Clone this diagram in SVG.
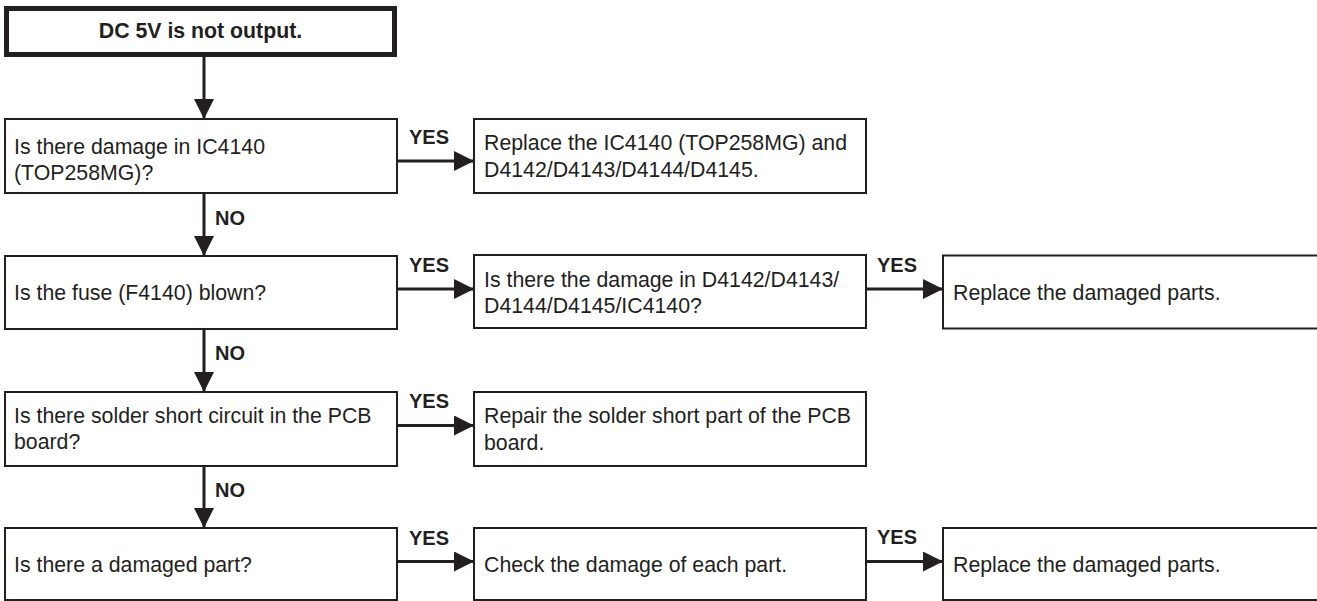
<svg xmlns="http://www.w3.org/2000/svg" width="1317" height="601" viewBox="0 0 1317 601">
<style>
.box{fill:#fff;stroke:#231f20;stroke-width:2}
.title{fill:#fff;stroke:#231f20;stroke-width:5}
.t{font-family:"Liberation Sans",Arial,sans-serif;font-size:21.3px;fill:#231f20}
.tb{font-family:"Liberation Sans",Arial,sans-serif;font-size:21.3px;font-weight:bold;fill:#231f20}
.lbl{font-family:"Liberation Sans",Arial,sans-serif;font-size:20px;font-weight:bold;fill:#231f20}
.c{stroke:#231f20;stroke-width:3;fill:none;marker-end:url(#ah)}
</style>
<defs>
<marker id="ah" markerUnits="userSpaceOnUse" markerWidth="20" markerHeight="20" refX="20" refY="10" orient="auto">
<path d="M0,0 L20,10 L0,20 z" fill="#231f20"/>
</marker>
</defs>
<rect width="1317" height="601" fill="#fff"/>
<g id="connectors">
<line class="c" x1="204" y1="57" x2="204" y2="119"/>
<line class="c" x1="204" y1="193" x2="204" y2="256"/>
<line class="c" x1="204" y1="329" x2="204" y2="392"/>
<line class="c" x1="204" y1="466" x2="204" y2="528"/>
<line class="c" x1="397" y1="161" x2="474" y2="161"/>
<line class="c" x1="397" y1="289" x2="474" y2="289"/>
<line class="c" x1="866" y1="289" x2="943" y2="289"/>
<line class="c" x1="397" y1="425.5" x2="474" y2="425.5"/>
<line class="c" x1="397" y1="561.5" x2="474" y2="561.5"/>
<line class="c" x1="866" y1="561.5" x2="943" y2="561.5"/>
<text class="lbl" x="215" y="225">NO</text>
<text class="lbl" x="215" y="360">NO</text>
<text class="lbl" x="215" y="497">NO</text>
<text class="lbl" x="409" y="144">YES</text>
<text class="lbl" x="409" y="272">YES</text>
<text class="lbl" x="877" y="272">YES</text>
<text class="lbl" x="409" y="408">YES</text>
<text class="lbl" x="409" y="545">YES</text>
<text class="lbl" x="877" y="544">YES</text>
</g>
<g id="start">
<rect class="title" x="6.5" y="8.5" width="388" height="46"/>
<text class="tb" x="200.5" y="38" text-anchor="middle">DC 5V is not output.</text>
</g>
<g id="q1">
<rect class="box" x="5" y="119" width="392" height="74"/>
<text class="t" x="14" y="154">Is there damage in IC4140</text>
<text class="t" x="14" y="180">(TOP258MG)?</text>
</g>
<g id="a1">
<rect class="box" x="474" y="119" width="392" height="74"/>
<text class="t" x="484" y="150">Replace the IC4140 (TOP258MG) and</text>
<text class="t" x="484" y="177">D4142/D4143/D4144/D4145.</text>
</g>
<g id="q2">
<rect class="box" x="5" y="256" width="392" height="73"/>
<text class="t" x="14" y="300">Is the fuse (F4140) blown?</text>
</g>
<g id="a2">
<rect class="box" x="474" y="255" width="392" height="73"/>
<text class="t" x="484" y="287">Is there the damage in D4142/D4143/</text>
<text class="t" x="484" y="313">D4144/D4145/IC4140?</text>
</g>
<g id="a2b">
<rect class="box" x="943" y="255.5" width="400" height="73"/>
<text class="t" x="953" y="300">Replace the damaged parts.</text>
</g>
<g id="q3">
<rect class="box" x="5" y="392" width="392" height="74"/>
<text class="t" x="14" y="423">Is there solder short circuit in the PCB</text>
<text class="t" x="14" y="449">board?</text>
</g>
<g id="a3">
<rect class="box" x="474" y="392" width="392" height="74"/>
<text class="t" x="484" y="423">Repair the solder short part of the PCB</text>
<text class="t" x="484" y="450">board.</text>
</g>
<g id="q4">
<rect class="box" x="5" y="528" width="392" height="72"/>
<text class="t" x="14" y="572">Is there a damaged part?</text>
</g>
<g id="a4">
<rect class="box" x="474" y="528" width="392" height="72"/>
<text class="t" x="484" y="572">Check the damage of each part.</text>
</g>
<g id="a4b">
<rect class="box" x="943" y="528" width="400" height="72"/>
<text class="t" x="953" y="572">Replace the damaged parts.</text>
</g>
</svg>
